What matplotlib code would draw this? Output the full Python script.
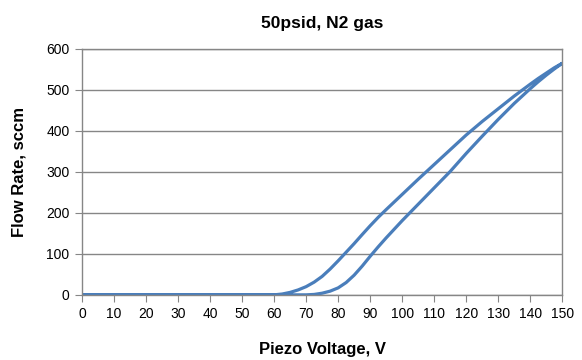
import matplotlib
matplotlib.use("Agg")
import matplotlib.pyplot as plt

plt.rcParams['font.family'] = ['Liberation Sans', 'DejaVu Sans']

# Rising-voltage branch (lower curve)
v_up = [0, 10, 20, 30, 40, 50, 60, 65, 70, 72.5, 75, 77.5, 80, 82.5, 85, 87.5, 90, 92.5, 95, 97.5,
        100, 105, 110, 115, 120, 125, 130, 135, 140, 142.5, 145, 147.5, 150]
f_up = [0, 0, 0, 0, 0, 0, 0, 0, 0, 1, 4, 9, 17, 30, 48, 70, 94, 117, 139, 160,
        181, 221, 261, 301, 345, 387, 428, 467, 503, 520, 536, 551, 565]
# Falling-voltage branch (upper curve)
v_down = [150, 147.5, 145, 142.5, 140, 135, 130, 125, 120, 115, 110, 105, 100, 97.5, 95, 92.5, 90,
          87.5, 85, 82.5, 80, 77.5, 75, 72.5, 70, 67.5, 65, 62.5, 60, 50, 40, 30, 20, 10, 0]
f_down = [565, 554, 541, 528, 514, 485, 454, 423, 390, 354, 318, 282, 245, 226.5, 208, 189, 168.5,
          147, 125, 104, 83, 63, 45, 31, 20, 12, 6, 2, 0, 0, 0, 0, 0, 0, 0]

x_ticks = list(range(0, 151, 10))
y_ticks = list(range(0, 601, 100))

fig = plt.figure(figsize=(5.82, 3.60), dpi=100)
ax = fig.add_axes([0.141, 0.181, 0.825, 0.683])

color = '#4a7ebb'
ax.plot(v_up + v_down, f_up + f_down, color=color, lw=2.3,
        solid_joinstyle='round', solid_capstyle='round')

ax.set_xlim(0, 150)
ax.set_ylim(0, 600)
ax.set_xticks(x_ticks)
ax.set_yticks(y_ticks)
ax.yaxis.grid(True, color='#868686', lw=1)
ax.set_axisbelow(True)
for s in ax.spines.values():
    s.set_color('#868686')
    s.set_linewidth(1)
ax.tick_params(axis='both', direction='out', length=5, color='#868686', labelsize=10, pad=4)

ax.set_title('50psid, N2 gas', fontsize=12.5, fontweight='bold', pad=15)
ax.set_xlabel('Piezo Voltage, V', fontsize=12, fontweight='bold', labelpad=15)
ax.set_ylabel('Flow Rate, sccm', fontsize=12, fontweight='bold', labelpad=14)

fig.savefig('out.png', dpi=100)
